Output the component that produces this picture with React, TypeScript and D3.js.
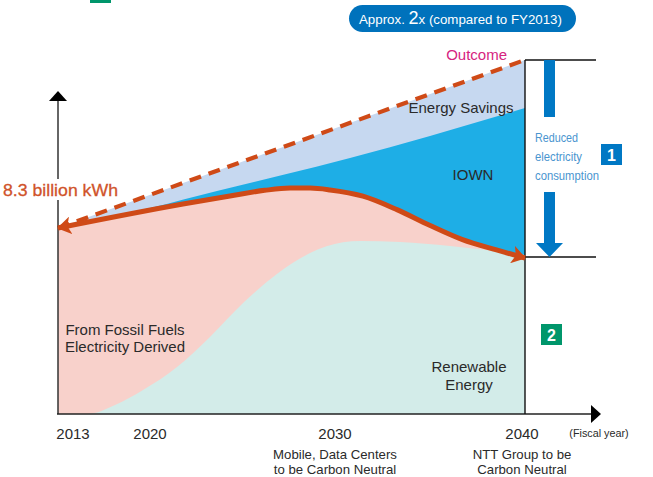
import React from "react";
import * as d3 from "d3";

const tickYears = [2013, 2020, 2030, 2040];
const tickLabels = ["2013", "2020", "2030", "2040"];
const totalYears = [2013, 2021.78, 2024.32, 2026.2, 2027.57, 2028.65, 2029.73, 2031.47, 2033.26, 2034.98, 2036.71, 2038.5, 2040];
const totalValues = [8.3, 9.37, 9.73, 9.98, 10.08, 10.08, 10.0, 9.72, 9.12, 8.42, 7.78, 7.32, 6.96];
const renewYears = [2013, 2015.28, 2017.34, 2019.47, 2021.46, 2023.24, 2025.03, 2026.86, 2028.65, 2030.42, 2031.32, 2033.42, 2036.05, 2040];
const renewValues = [0, 0, 0.4, 1.07, 2.1, 3.44, 4.95, 6.25, 7.18, 7.66, 7.72, 7.68, 7.5, 7.1];
const iownYears = [2013, 2020, 2023.62, 2027.16, 2030.79, 2040];
const iownValues = [8.3, 9.19, 9.95, 10.66, 11.42, 13.65];
const outcomeYears = [2013, 2040];
const outcomeValues = [8.3, 15.8];

const x = d3.scaleLinear().domain(tickYears).range([58, 150, 335, 525]);
const y = d3.scaleLinear().domain([0, 8.3]).range([414, 228]);

type P = [number, number];
const zip = (a: number[], b: number[]): P[] => a.map((v, i) => [v, b[i]]);
const area = (c: d3.CurveFactory) =>
  d3.area<P>().x((d) => x(d[0])).y0(y(0)).y1((d) => y(d[1])).curve(c);
const line = (c: d3.CurveFactory) =>
  d3.line<P>().x((d) => x(d[0])).y((d) => y(d[1])).curve(c);

const font = "'Liberation Sans', Arial, sans-serif";
const ORANGE = "#cf4a17";
const BLUE = "#0078c4";
const smooth = d3.curveMonotoneX;

export default function App() {
  const total = zip(totalYears, totalValues);
  const renew = zip(renewYears, renewValues);
  const iown = zip(iownYears, iownValues);
  const outcome = zip(outcomeYears, outcomeValues);
  const right = x(2040);
  const top = y(15.8);
  const low = 257;
  const base = y(0);
  const tx = (s: string, px: number, py: number, size: number, fill = "#2a2a2a", anchor = "middle", extra: any = {}) => (
    <text x={px} y={py} fontSize={size} fill={fill} textAnchor={anchor} {...extra}>{s}</text>
  );
  return (
    <svg width={653} height={477} style={{ position: "absolute", left: 0, top: 0, background: "#fff" }} fontFamily={font}>
      <defs>
        <marker id="ah" viewBox="0 0 14 18" refX="13" refY="9" markerWidth="14" markerHeight="18" markerUnits="userSpaceOnUse" orient="auto-start-reverse">
          <path d="M14 9L0 0L3.5 9L0 18Z" fill={ORANGE} />
        </marker>
      </defs>

      <path d={area(d3.curveLinear)(outcome)!} fill="#c6d8f0" />
      <path d={area(smooth)(iown)!} fill="#1eaee6" />
      <path d={area(smooth)(total)!} fill="#f8d1cb" />
      <path d={area(smooth)(renew)!} fill="#d3ece9" />

      <path d={line(d3.curveLinear)(outcome)!} fill="none" stroke={ORANGE} strokeWidth={4.2} strokeDasharray="12 8" />

      <line x1={58} x2={58} y1={base} y2={100} stroke="#333" strokeWidth={1.5} />
      <path d="M58 91L67 101H49Z" fill="#000" />
      <line x1={57} x2={591} y1={base} y2={base} stroke="#222" strokeWidth={1.5} />
      <path d="M601 414L591 405V423Z" fill="#000" />
      <line x1={right} x2={right} y1={top} y2={base} stroke="#111" strokeWidth={1.4} />
      <line x1={right} x2={596} y1={top} y2={top} stroke="#111" strokeWidth={1.4} />
      <line x1={right} x2={596} y1={low} y2={low} stroke="#111" strokeWidth={1.4} />

      <path d={line(smooth)(total)!} fill="none" stroke={ORANGE} strokeWidth={5} markerStart="url(#ah)" markerEnd="url(#ah)" />

      <rect x={2} y={179} width={117} height={21} fill="#fff" />
      {tx("8.3 billion kWh", 3, 196, 17, "#d0532a", "start", { stroke: "#d0532a", strokeWidth: 0.3, textLength: 115, lengthAdjust: "spacingAndGlyphs" })}

      <rect x={349} y={5} width={227} height={27} rx={13.5} fill="#0072bc" />
      <text x={359} y={24} fontSize={13.3} fill="#fff">
        Approx. <tspan fontSize={18}>2</tspan>x (compared to FY2013)
      </text>
      {tx("Outcome", 507, 60, 15, "#d6247f", "end")}
      {tx("Energy Savings", 461, 113, 15)}
      {tx("IOWN", 473, 180, 15)}
      {tx("From Fossil Fuels", 125, 335, 15)}
      {tx("Electricity Derived", 125, 352, 15)}
      {tx("Renewable", 469, 372, 15)}
      {tx("Energy", 469, 390, 15)}

      <rect x={544} y={60} width={11} height={57} fill={BLUE} />
      <path d="M544 192H555V243H563L549.5 257L536 243H544Z" fill={BLUE} />
      {tx("Reduced", 535, 142, 13, "#4a95cf", "start", { textLength: 43, lengthAdjust: "spacingAndGlyphs" })}
      {tx("electricity", 535, 161, 13, "#4a95cf", "start", { textLength: 47, lengthAdjust: "spacingAndGlyphs" })}
      {tx("consumption", 535, 180, 13, "#4a95cf", "start", { textLength: 64, lengthAdjust: "spacingAndGlyphs" })}

      <rect x={601} y={144} width={21} height={21} fill={BLUE} />
      {tx("1", 611.5, 161, 16, "#fff", "middle", { fontWeight: 700 })}
      <rect x={541} y={324} width={21} height={21} fill="#00966b" />
      {tx("2", 551.5, 341, 16, "#fff", "middle", { fontWeight: 700 })}
      <rect x={90} y={-18} width={21} height={21} fill="#00966b" />

      {tickLabels.map((t, i) => {
        const cx = [73, 150, 335, 522][i];
        return <g key={t}>{tx(t, cx, 439, 15)}</g>;
      })}
      {tx("(Fiscal year)", 599, 437, 10.8)}
      {tx("Mobile, Data Centers", 335, 459, 13.2)}
      {tx("to be Carbon Neutral", 335, 474, 13.2)}
      {tx("NTT Group to be", 522, 459, 13.2)}
      {tx("Carbon Neutral", 522, 474, 13.2)}
    </svg>
  );
}
